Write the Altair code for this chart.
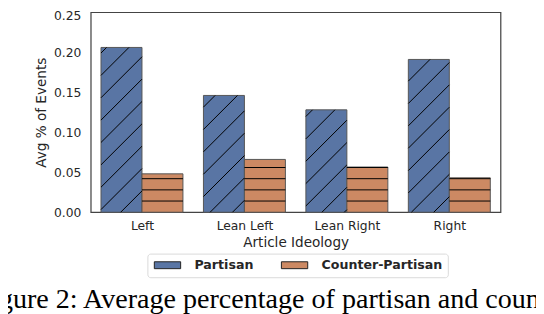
import math
import altair as alt
import pandas as pd

# ---- data ----
categories = ["Left", "Lean Left", "Lean Right", "Right"]
series = ["Partisan", "Counter-Partisan"]
partisan = [0.206, 0.146, 0.128, 0.191]
counter_partisan = [0.048, 0.066, 0.0565, 0.043]
y_ticks = [0.0, 0.05, 0.10, 0.15, 0.20, 0.25]
colors = ["#5975a4", "#cc8963"]
caption = "Figure 2: Average percentage of partisan and counter-partisan events by article ideology."

# ---- layout ----
W, H = 416, 203
X_DOMAIN = [-0.5, 3.5]
Y_MAX = 0.25
BAR_W = 0.4
PX_X = W / (X_DOMAIN[1] - X_DOMAIN[0])
PX_Y = H / Y_MAX

rows = []
for i, c in enumerate(categories):
    rows.append(dict(cat=c, series=series[0], x0=i - BAR_W, x1=i, value=partisan[i], base=0.0))
    rows.append(dict(cat=c, series=series[1], x0=i, x1=i + BAR_W, value=counter_partisan[i], base=0.0))
bars = pd.DataFrame(rows)

# ---- hatch segments derived from the bars ----
DIAG, HORIZ, PHASE = 22.7, 11.35, 15.0
segs = []
for r in rows:
    left_px = (r["x0"] - X_DOMAIN[0]) * PX_X
    w = BAR_W * PX_X
    h = r["value"] * PX_Y
    if r["series"] == series[0]:
        c = (left_px + PHASE) % DIAG - DIAG * (math.ceil(w / DIAG) + 1)
        while c < h:
            a = max(0.0, -c)
            b = min(w, h - c)
            if b - a > 0.8:
                segs.append(dict(x=r["x0"] + a / PX_X, x2=r["x0"] + b / PX_X,
                                 y=(a + c) / PX_Y, y2=(b + c) / PX_Y))
            c += DIAG
    else:
        k = 1
        while k * HORIZ < h - 0.3:
            segs.append(dict(x=r["x0"], x2=r["x1"], y=k * HORIZ / PX_Y, y2=k * HORIZ / PX_Y))
            k += 1
hatch = pd.DataFrame(segs)

xscale = alt.Scale(domain=X_DOMAIN, nice=False, zero=False)
yscale = alt.Scale(domain=[0, Y_MAX], nice=False)
cscale = alt.Scale(domain=series, range=colors)

swatch = "M-3.34,-0.875H3.34V0.875H-3.34Z"

leg = alt.Legend(
    title=None, orient="none", legendX=57.5, legendY=245, direction="horizontal",
    symbolType=swatch, symbolSize=64, symbolOffset=9, labelOffset=21,
    labelFont="DejaVu Sans", labelFontSize=12.8, labelFontWeight="bold",
    labelColor="#262626", columnPadding=26, padding=5,
    strokeColor="#d9d9d9", cornerRadius=3, fillColor="white",
    symbolStrokeColor="#222222", symbolStrokeWidth=1,
)

x_axis = alt.Axis(
    values=list(range(len(categories))),
    labelExpr="[" + ",".join("'" + c + "'" for c in categories) + "][datum.value]",
    title="Article Ideology", labelFlush=False, labelOverlap=False,
    labelPadding=8, titlePadding=3,
)
y_axis = alt.Axis(
    values=y_ticks, format=".2f", title="Avg % of Events",
    labelFlush=False, labelPadding=10, titlePadding=5,
    labelOffset={"condition": {"test": f"datum.value >= {Y_MAX}", "value": 3}, "value": 0},
)

bar_layer = alt.Chart(bars).mark_rect(stroke="#555555", strokeWidth=1).encode(
    x=alt.X("x0:Q", scale=xscale, axis=x_axis),
    x2="x1:Q",
    y=alt.Y("value:Q", scale=yscale, axis=y_axis),
    y2="base:Q",
    color=alt.Color("series:N", scale=cscale, legend=leg),
)

hatch_layer = alt.Chart(hatch).mark_rule(color="black", strokeWidth=1).encode(
    x=alt.X("x:Q", scale=xscale),
    x2="x2:Q",
    y=alt.Y("y:Q", scale=yscale),
    y2="y2:Q",
)

caption_layer = alt.Chart(pd.DataFrame({"t": [caption]})).mark_text(
    align="left", baseline="alphabetic", font="Liberation Serif", fontSize=28.5, color="black"
).encode(x=alt.value(-117), y=alt.value(300), text="t:N")

chart = alt.layer(bar_layer, hatch_layer, caption_layer).properties(
    width=W, height=H,
    padding={"left": 84, "top": 2, "right": 36, "bottom": 101},
    autosize=alt.AutoSizeParams(type="none"),
).configure_view(stroke="#444444", strokeWidth=1.25).configure_axis(
    labelFont="DejaVu Sans", labelFontSize=12.5, labelColor="#262626",
    titleFont="DejaVu Sans", titleFontSize=13.8, titleColor="#262626",
    titleFontWeight="normal", ticks=False, tickSize=0, domain=False, grid=False,
)

chart.save("out.html", embed_options={"renderer": "svg", "actions": False})
